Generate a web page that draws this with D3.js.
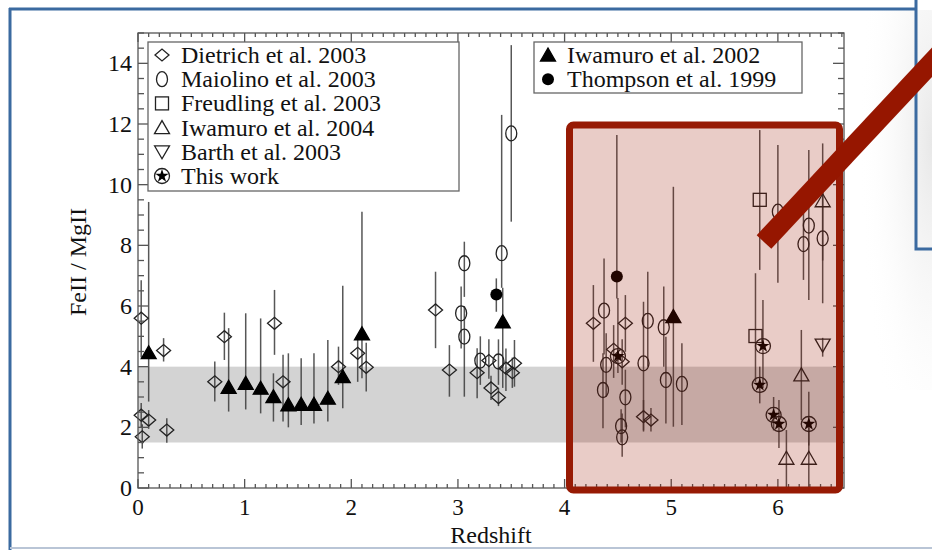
<!DOCTYPE html>
<html><head><meta charset="utf-8">
<script src="https://cdn.jsdelivr.net/npm/d3@7"></script>
<style>html,body{margin:0;padding:0;background:#fff;}svg{display:block;}</style>
</head><body>
<svg id="chart" width="932" height="550"></svg>
<script>
// ---- data: [redshift, FeII/MgII, errLow, errHigh] ----
const dietrich = [
  [0.03,5.60,4.30,6.85],[0.03,2.40,2.00,2.80],[0.04,1.69,1.30,2.10],[0.10,2.24,1.95,2.57],
  [0.24,4.53,4.17,4.94],[0.27,1.91,1.49,2.30],[0.72,3.50,2.85,4.17],[0.81,4.99,4.22,5.78],
  [1.28,5.43,4.39,6.53],[1.36,3.50,2.19,4.39],[1.88,4.00,3.40,4.66],[2.06,4.44,3.50,4.94],
  [2.14,3.98,3.18,4.79],[2.79,5.87,4.61,7.13],[2.92,3.89,3.01,4.71],[3.18,3.80,2.96,4.61],
  [3.29,4.20,3.60,4.90],[3.31,3.30,2.90,3.70],[3.38,2.98,2.70,3.30],[3.45,3.95,3.20,4.60],
  [3.51,3.80,3.30,4.30],[3.53,4.11,3.34,4.88],[4.27,5.43,4.16,6.69],[4.46,4.57,3.63,5.37],
  [4.57,5.43,4.49,6.36],[4.54,4.16,3.40,4.90],[4.74,2.35,1.90,2.90],[4.81,2.24,1.86,2.64]
];
const maiolino = [
  [3.03,5.76,4.60,6.64],[3.06,4.99,3.01,6.00],[3.06,7.41,6.30,8.12],[3.21,4.20,3.40,5.00],
  [3.38,4.17,3.40,4.90],[3.41,7.74,6.60,12.30],[3.50,11.69,8.78,14.60],[4.36,3.23,1.97,4.44],
  [4.37,5.85,4.40,7.57],[4.39,4.06,3.00,5.10],[4.53,2.04,1.50,2.60],[4.54,1.67,1.03,2.46],
  [4.57,2.99,2.00,3.90],[4.74,4.11,1.86,6.14],[4.78,5.51,4.00,7.13],[4.93,5.30,4.00,6.64],
  [4.95,3.56,2.13,4.99],[5.10,3.43,2.08,4.77],[6.00,9.11,6.77,11.31],[6.24,8.04,6.86,9.30],
  [6.29,8.65,6.20,11.14],[6.42,8.23,6.09,9.90]
];
const freudling = [[5.79,5.01,3.50,7.08],[5.83,9.50,7.19,11.80]];
const iwamuro2004 = [[6.08,0.98,0.00,1.91],[6.22,3.73,2.24,5.21],[6.29,0.98,0.00,2.00],[6.42,9.47,7.50,11.36]];
const barth = [[6.42,4.71,4.33,4.95]];
const thisWork = [[4.50,4.35,3.79,6.26],[5.83,3.40,2.79,4.00],[5.86,4.68,3.30,6.20],
  [5.96,2.41,1.90,3.00],[6.01,2.11,1.32,2.90],[6.29,2.11,1.40,3.17]];
const iwamuro2002 = [
  [0.10,4.46,2.85,9.43],[0.85,3.32,2.52,5.27],[1.01,3.45,2.59,5.76],[1.15,3.29,2.46,5.59],
  [1.27,3.01,2.19,3.78],[1.41,2.74,2.00,4.44],[1.53,2.76,2.08,4.28],[1.65,2.76,2.13,4.44],
  [1.78,2.96,2.19,4.88],[1.92,3.67,2.63,6.67],[2.10,5.08,3.62,9.11],[3.42,5.48,3.30,6.60],
  [5.02,5.65,2.02,9.93]
];
const thompson = [[3.36,6.38,5.81,6.91],[4.49,6.97,6.25,11.64]];
const band = [1.5, 4.0];
const xTicks = [0,1,2,3,4,5,6];
const yTicks = [0,2,4,6,8,10,12,14];
const legendLeft = ["Dietrich et al. 2003","Maiolino et al. 2003","Freudling et al. 2003","Iwamuro et al. 2004","Barth et al. 2003","This work"];
const legendRight = ["Iwamuro et al. 2002","Thompson et al. 1999"];
const xTitle = "Redshift", yTitle = "FeII / MgII";

// ---- layout ----
const svg = d3.select("#chart");
const L = 138, R = 844, T = 33, B = 488;
const x = d3.scaleLinear().domain([0, 6.62]).range([L, R]);
const y = d3.scaleLinear().domain([0, 15]).range([B, T]);
const font = "'Liberation Serif','Times New Roman',serif";
const fs = 24;
const ink = "#222";

svg.append("rect").attr("width",932).attr("height",550).attr("fill","#fff");
// soft slide shadow on the right
const defs = svg.append("defs");
const rg = defs.append("radialGradient").attr("id","shade").attr("cx","1").attr("cy","0.35").attr("r","0.9");
rg.append("stop").attr("offset","0").attr("stop-color","#e2e2e2").attr("stop-opacity",1);
rg.append("stop").attr("offset","1").attr("stop-color","#ffffff").attr("stop-opacity",0);
svg.append("rect").attr("x",850).attr("y",10).attr("width",82).attr("height",380).attr("fill","url(#shade)").attr("opacity",0.8);

// grey band
svg.append("rect").attr("x",x(0)).attr("y",y(band[1])).attr("width",x(6.62)-x(0))
  .attr("height",y(band[0])-y(band[1])).attr("fill","#d3d3d3");

// error bars
const allSeries = [dietrich,maiolino,freudling,iwamuro2004,barth,thisWork,iwamuro2002,thompson];
const eg = svg.append("g").attr("stroke","#3a3a3a").attr("stroke-width",1.5).attr("stroke-opacity",0.85);
allSeries.forEach(s => s.forEach(d => {
  eg.append("line").attr("x1",x(d[0])).attr("x2",x(d[0])).attr("y1",y(d[2])).attr("y2",y(d[3]));
}));

// marker painters
function diamond(g,cx,cy){ g.append("path").attr("d",`M${cx-7},${cy}L${cx},${cy-6}L${cx+7},${cy}L${cx},${cy+6}Z`)
  .attr("fill","none").attr("stroke",ink).attr("stroke-width",1.3); }
function ellipse(g,cx,cy){ g.append("ellipse").attr("cx",cx).attr("cy",cy).attr("rx",5.5).attr("ry",7.5)
  .attr("fill","none").attr("stroke",ink).attr("stroke-width",1.3); }
function square(g,cx,cy){ g.append("rect").attr("x",cx-6.5).attr("y",cy-6.5).attr("width",13).attr("height",13)
  .attr("fill","none").attr("stroke",ink).attr("stroke-width",1.3); }
function triUp(g,cx,cy,filled){ g.append("path").attr("d",`M${cx-7.5},${cy+6}L${cx},${cy-7}L${cx+7.5},${cy+6}Z`)
  .attr("fill",filled?"#000":"none").attr("stroke",filled?"#000":ink).attr("stroke-width",1.3); }
function triDown(g,cx,cy){ g.append("path").attr("d",`M${cx-7.5},${cy-6}L${cx},${cy+7}L${cx+7.5},${cy-6}Z`)
  .attr("fill","none").attr("stroke",ink).attr("stroke-width",1.3); }
function dot(g,cx,cy){ g.append("ellipse").attr("cx",cx).attr("cy",cy).attr("rx",6).attr("ry",6)
  .attr("fill","#000"); }
const starPath = d3.symbol().type(d3.symbolStar).size(55)();
function star(g,cx,cy){ g.append("circle").attr("cx",cx).attr("cy",cy).attr("r",7.5).attr("fill","none")
    .attr("stroke",ink).attr("stroke-width",1.3);
  g.append("path").attr("d",starPath).attr("transform",`translate(${cx},${cy})`).attr("fill","#000"); }

const mg = svg.append("g");
dietrich.forEach(d=>diamond(mg,x(d[0]),y(d[1])));
maiolino.forEach(d=>ellipse(mg,x(d[0]),y(d[1])));
freudling.forEach(d=>square(mg,x(d[0]),y(d[1])));
iwamuro2004.forEach(d=>triUp(mg,x(d[0]),y(d[1]),false));
barth.forEach(d=>triDown(mg,x(d[0]),y(d[1])));
thisWork.forEach(d=>star(mg,x(d[0]),y(d[1])));
iwamuro2002.forEach(d=>triUp(mg,x(d[0]),y(d[1]),true));
thompson.forEach(d=>dot(mg,x(d[0]),y(d[1])));

// frame and ticks
const ax = svg.append("g").attr("stroke","#555").attr("stroke-width",1.3);
ax.append("rect").attr("x",L).attr("y",T).attr("width",R-L).attr("height",B-T).attr("fill","none");
d3.range(0, 6.62, 0.1).forEach((v,i)=>{
  const len = (i%10===0)?9:4;
  ax.append("line").attr("x1",x(v)).attr("x2",x(v)).attr("y1",B).attr("y2",B-len);
  ax.append("line").attr("x1",x(v)).attr("x2",x(v)).attr("y1",T).attr("y2",T+len);
});
d3.range(0, 15.01, 0.5).forEach((v,i)=>{
  const len = (i%4===0)?11:6;
  ax.append("line").attr("x1",L).attr("x2",L+len).attr("y1",y(v)).attr("y2",y(v));
  ax.append("line").attr("x1",R).attr("x2",R-len).attr("y1",y(v)).attr("y2",y(v));
});
const tg = svg.append("g").attr("font-family",font).attr("font-size",fs).attr("fill","#111");
xTicks.forEach(v=>tg.append("text").attr("x",x(v)).attr("y",515).attr("font-size",23).attr("text-anchor","middle").text(v));
yTicks.forEach(v=>tg.append("text").attr("x",132).attr("y",y(v)+8).attr("text-anchor","end").text(v));
tg.append("text").attr("x",491).attr("y",543).attr("text-anchor","middle").text(xTitle);
tg.append("text").attr("transform","translate(86,262) rotate(-90)").attr("text-anchor","middle").text(yTitle);

// legends
const lg = svg.append("g");
lg.append("rect").attr("x",148).attr("y",42).attr("width",311).attr("height",149).attr("fill","#fff")
  .attr("stroke","#666").attr("stroke-width",1.3);
const painters = [diamond, ellipse, square, (g,a,b)=>triUp(g,a,b,false), triDown, star];
legendLeft.forEach((t,i)=>{
  const cy = 55 + i*24.2;
  painters[i](lg,162,cy);
  lg.append("text").attr("x",181).attr("y",cy+8).attr("font-family",font).attr("font-size",fs).attr("fill","#111").text(t);
});
lg.append("rect").attr("x",534).attr("y",42).attr("width",268).attr("height",51).attr("fill","#fff")
  .attr("stroke","#666").attr("stroke-width",1.3);
const painters2 = [(g,a,b)=>triUp(g,a,b,true), dot];
legendRight.forEach((t,i)=>{
  const cy = 55 + i*24.2;
  painters2[i](lg,548,cy);
  lg.append("text").attr("x",567).attr("y",cy+8).attr("font-family",font).attr("font-size",fs).attr("fill","#111").text(t);
});

// highlight box
svg.append("rect").attr("x",569.5).attr("y",125).attr("width",270).attr("height",365).attr("rx",4)
  .attr("fill","rgba(153,21,0,0.22)").attr("stroke","#971a04").attr("stroke-width",7);

// slide frame
const blue = "#3b6aa0";
svg.append("line").attr("x1",9).attr("x2",917).attr("y1",9).attr("y2",9).attr("stroke",blue).attr("stroke-width",3);
svg.append("line").attr("x1",10).attr("x2",10).attr("y1",8).attr("y2",550).attr("stroke",blue).attr("stroke-width",3);
svg.append("line").attr("x1",10).attr("x2",932).attr("y1",548).attr("y2",548).attr("stroke","#b9c5d6").attr("stroke-width",2);
svg.append("path").attr("d","M916,0V249H932").attr("fill","none").attr("stroke",blue).attr("stroke-width",3);

// arrow bar
svg.append("line").attr("x1",764).attr("y1",242).attr("x2",990).attr("y2",242-1.07*226)
  .attr("stroke","#961600").attr("stroke-width",20);
</script>
</body></html>
